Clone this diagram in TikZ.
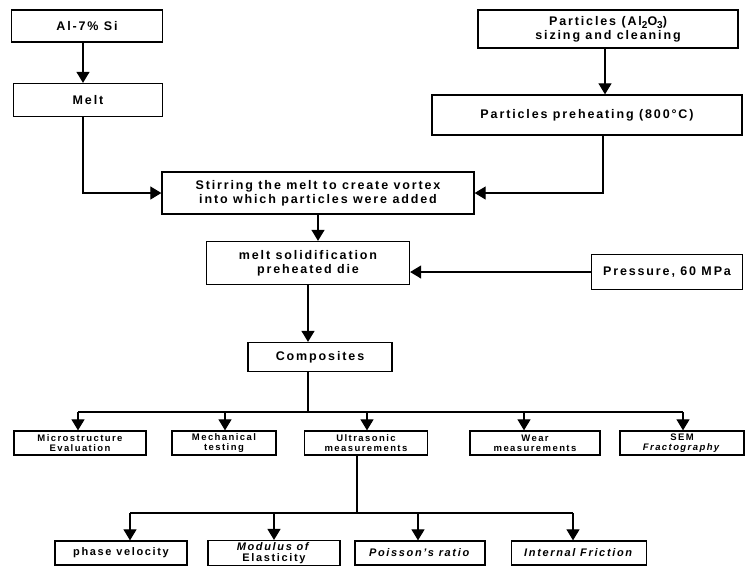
\documentclass[tikz,border=0pt]{standalone}
\usepackage{fontspec}
\setmainfont{Liberation Sans}[LetterSpace=15]
\usetikzlibrary{arrows.meta}
\newcommand{\lowsub}[1]{\raisebox{-3pt}{\fontsize{10}{10}\selectfont #1}}
\begin{document}
\begin{tikzpicture}
[
x=1pt, y=-1pt,
every node/.style={font=\fontsize{12.5}{14}\selectfont\bfseries},
Box/.style={rectangle, draw=black, line width=1.3pt, fill=white, inner sep=2pt, align=center},
SmallBox/.style={Box, minimum height=24pt, font=\fontsize{9.5}{10}\selectfont\bfseries},
LowBox/.style={Box, minimum height=24pt, font=\fontsize{11}{10.5}\selectfont\bfseries},
Line/.style={-, draw=black, line width=1.5pt},
Arr/.style={-{Triangle[width=13pt,length=11pt]}, draw=black, line width=1.2pt},
]

% top of the process
\node[Box, minimum width=151pt, minimum height=32pt] (alloy) at (87,26) {Al-7\% Si};
\node[Box, minimum width=149pt, minimum height=33pt] (melt) at (88,100) {Melt};
\node[Box, minimum width=260pt, minimum height=38pt] (part) at (608,29) {Particles (Al\lowsub{2}O\lowsub{3})\\sizing and cleaning};
\node[Box, minimum width=310pt, minimum height=40pt] (pre) at (587,115) {Particles preheating (800\textdegree C)};

\node[Box, minimum width=312pt, minimum height=42pt] (stir) at (318,193) {Stirring the melt to create vortex\\into which particles were added};
\node[Box, minimum width=203pt, minimum height=43pt] (solid) at (308,263) {melt solidification\\preheated die};
\node[Box, minimum width=151pt, minimum height=35pt] (press) at (667,272) {Pressure, 60 MPa};
\node[Box, minimum width=144pt, minimum height=29pt] (comp) at (320,357) {Composites};

\draw[Arr] (alloy.south -| 83,0) -- (melt.north -| 83,0);
\draw[Arr] (part.south -| 605,0) -- (pre.north -| 605,0);
\draw[Arr] (melt.south -| 83,0) |- (stir.west);
\draw[Arr] (pre.south -| 603,0) |- (stir.east);
\draw[Arr] (stir.south) -- (solid.north -| stir.south);
\draw[Arr] (press.west) -- (press.west -| solid.east);
\draw[Arr] (solid.south) -- (comp.north -| solid.south);

% characterisation
\node[SmallBox, minimum width=132pt] (micro) at (80,443) {Microstructure\\Evaluation};
\node[SmallBox, minimum width=104pt] (mech) at (224,443) {Mechanical\\testing};
\node[SmallBox, minimum width=123pt] (ultra) at (366,443) {Ultrasonic\\measurements};
\node[SmallBox, minimum width=130pt] (wear) at (535,443) {Wear\\measurements};
\node[SmallBox, minimum width=124pt] (sem) at (682,443) {SEM\\\textit{Fractography}};

\coordinate (busA) at (308,412);
\draw[Line] (comp.south -| busA) -- (busA);
\draw[Line] (78,412) -- (683,412);
\foreach \n/\x in {micro/78, mech/225, ultra/367, wear/524, sem/683}
  \draw[Arr] (\x,412) -- (\n.north -| \x,0);

% ultrasonic results
\node[LowBox, minimum width=132pt] (phase) at (121,553) {phase velocity};
\node[LowBox, minimum width=132pt] (mod) at (274,553) {\textit{Modulus of}\\Elasticity};
\node[LowBox, minimum width=130pt] (pois) at (420,553) {\textit{Poisson's ratio}};
\node[LowBox, minimum width=135pt] (fric) at (579,553) {\textit{Internal Friction}};

\coordinate (busB) at (357,513);
\draw[Line] (ultra.south -| busB) -- (busB);
\draw[Line] (130,513) -- (573,513);
\foreach \n/\x in {phase/130, mod/274, pois/418, fric/573}
  \draw[Arr] (\x,513) -- (\n.north -| \x,0);

\useasboundingbox (0,0) rectangle (746,571);
\end{tikzpicture}
\end{document}
